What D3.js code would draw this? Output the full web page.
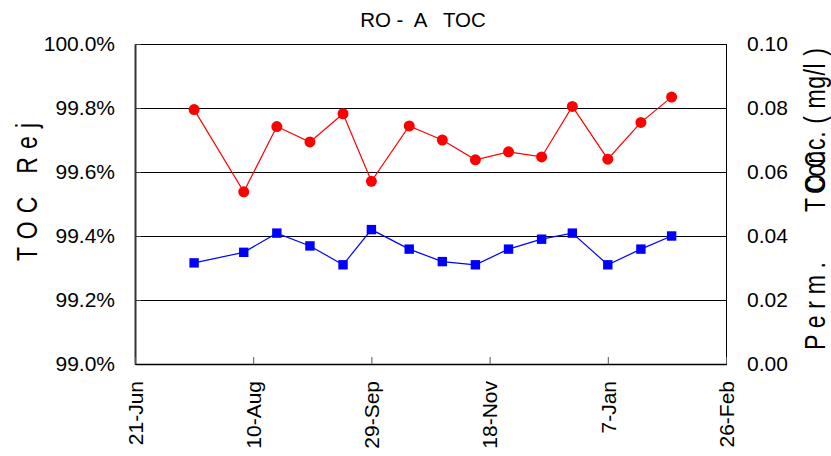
<!DOCTYPE html>
<html>
<head>
<meta charset="utf-8">
<script src="https://cdn.jsdelivr.net/npm/d3@7"></script>
<style>
  html, body { margin: 0; padding: 0; background: #fff; }
  svg { display: block; font-family: "Liberation Sans", Arial, sans-serif; }
  text { white-space: pre; }
</style>
</head>
<body>
<svg id="chart" width="831" height="456"></svg>
<script>
// ---- data ----
const sampleDates = ["2006-07-16","2006-08-06","2006-08-20","2006-09-03","2006-09-17","2006-09-29",
  "2006-10-15","2006-10-29","2006-11-12","2006-11-26","2006-12-10","2006-12-23",
  "2007-01-07","2007-01-21","2007-02-03"];
const tocRejection = [99.795, 99.538, 99.742, 99.694, 99.782, 99.571, 99.744, 99.700,
  99.638, 99.663, 99.647, 99.805, 99.640, 99.755, 99.834];
const permToc = [0.0316, 0.0349, 0.0409, 0.0369, 0.0310, 0.0420, 0.0359, 0.0320,
  0.0310, 0.0359, 0.0390, 0.0409, 0.0310, 0.0359, 0.0400];
const xTickDates = ["2006-06-21","2006-08-10","2006-09-29","2006-11-18","2007-01-07","2007-02-26"];
const leftTicks = [99.0, 99.2, 99.4, 99.6, 99.8, 100.0];
const rightTicks = [0.00, 0.02, 0.04, 0.06, 0.08, 0.10];
const titleText = "RO -  A   TOC";
const leftTitle = "T O C   R e j";
const rightTitleA = "P e r m .";
const rightTitleB = "T O C";
const rightTitleC = "Conc. ( mg/l )";

// ---- layout ----
const parse = d3.timeParse("%Y-%m-%d");
const L = 135, R = 726, T = 44, B = 364;
const svg = d3.select("#chart");

const x = d3.scaleTime().domain([parse(xTickDates[0]), parse(xTickDates[xTickDates.length-1])]).range([L, R]);
const yL = d3.scaleLinear().domain([99.0, 100.0]).range([B, T]);
const yR = d3.scaleLinear().domain([0, 0.10]).range([B, T]);

// plot background
svg.append("rect").attr("x", L).attr("y", T).attr("width", R - L).attr("height", B - T)
  .attr("fill", "#fff").attr("stroke", "#000").attr("stroke-width", 1)
  .attr("shape-rendering", "crispEdges");

// gridlines
svg.append("g").selectAll("line").data(leftTicks.filter(d => d > 99.0 && d < 100.0))
  .join("line")
  .attr("x1", L).attr("x2", R)
  .attr("y1", d => Math.round(yL(d)) + 0.5).attr("y2", d => Math.round(yL(d)) + 0.5)
  .attr("stroke", "#000").attr("stroke-width", 1);

// left axis
const gL = svg.append("g").attr("transform", `translate(${L},0)`)
  .call(d3.axisLeft(yL).tickValues(leftTicks).tickFormat(d => d3.format(".1f")(d) + "%").tickSizeInner(-6).tickSizeOuter(0).tickPadding(20));
gL.select(".domain").attr("stroke", "#333").attr("stroke-width", 2);
gL.selectAll(".tick line").attr("stroke", "#333");
gL.selectAll("text").attr("font-size", 21).attr("fill", "#000").attr("font-family", "Liberation Sans, Arial, sans-serif");

// right axis
const gR = svg.append("g").attr("transform", `translate(${R},0)`)
  .call(d3.axisRight(yR).tickValues(rightTicks).tickFormat(d3.format(".2f")).tickSizeInner(-6).tickSizeOuter(0).tickPadding(21));
gR.select(".domain").attr("stroke", "#000").attr("stroke-width", 1);
gR.selectAll(".tick line").attr("stroke", "#000");
gR.selectAll("text").attr("font-size", 21).attr("fill", "#000").attr("font-family", "Liberation Sans, Arial, sans-serif");

// bottom axis
const gB = svg.append("g").attr("transform", `translate(0,${B})`)
  .call(d3.axisBottom(x).tickValues(xTickDates.map(parse)).tickFormat(d3.timeFormat("%-d-%b")).tickSizeInner(-7).tickSizeOuter(0).tickPadding(0));
gB.select(".domain").attr("stroke", "#000").attr("stroke-width", 1.5);
gB.selectAll(".tick line").attr("stroke", "#555");
gB.selectAll("text")
  .attr("font-size", 21).attr("fill", "#000").attr("font-family", "Liberation Sans, Arial, sans-serif")
  .attr("text-anchor", "end")
  .attr("transform", "translate(0,17) rotate(-90)")
  .attr("x", 0).attr("y", 0).attr("dy", "0.35em");

// series: permeate TOC (blue squares)
const pts = sampleDates.map((d, i) => ({ date: parse(d), rej: tocRejection[i], perm: permToc[i] }));
svg.append("path").datum(pts)
  .attr("fill", "none").attr("stroke", "#0000ff").attr("stroke-width", 1.2)
  .attr("d", d3.line().x(d => x(d.date)).y(d => yR(d.perm)));
svg.append("g").selectAll("rect").data(pts).join("rect")
  .attr("x", d => x(d.date) - 4.7).attr("y", d => yR(d.perm) - 4.7)
  .attr("width", 9.4).attr("height", 9.4).attr("fill", "#0000ff");

// series: TOC rejection (red circles)
svg.append("path").datum(pts)
  .attr("fill", "none").attr("stroke", "#ff0000").attr("stroke-width", 1.2)
  .attr("d", d3.line().x(d => x(d.date)).y(d => yL(d.rej)));
svg.append("g").selectAll("circle").data(pts).join("circle")
  .attr("cx", d => x(d.date)).attr("cy", d => yL(d.rej))
  .attr("r", 5.5).attr("fill", "#ff0000");

// title
svg.append("text").attr("x", 423).attr("y", 27).attr("text-anchor", "middle")
  .attr("xml:space", "preserve")
  .attr("font-size", 20.5).attr("fill", "#000").text(titleText);

// axis titles (rotated, glyphs a bit taller than wide as in the original)
function vtext(bx, by, str, len) {
  const t = svg.append("text")
    .attr("transform", `translate(${bx},${by}) rotate(-90) scale(1,1.25)`)
    .attr("xml:space", "preserve")
    .attr("text-anchor", "start").attr("font-size", 23).attr("fill", "#000").text(str);
  if (len) t.attr("textLength", len).attr("lengthAdjust", "spacing");
  return t;
}
vtext(37, 261, leftTitle, 138);
vtext(825, 350, rightTitleA, 88);
vtext(825, 212, rightTitleB);
vtext(825, 194, rightTitleC, 146);
</script>
</body>
</html>
